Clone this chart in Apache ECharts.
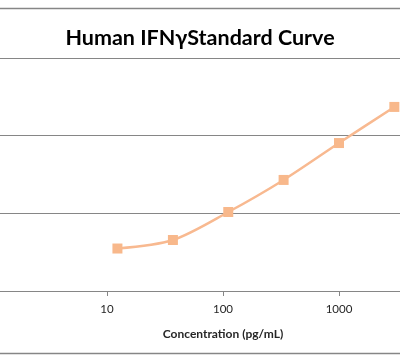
<!DOCTYPE html>
<html><head><meta charset="utf-8">
<script src="https://cdn.jsdelivr.net/npm/echarts@6/dist/echarts.min.js"></script>
<style>html,body{margin:0;padding:0;background:#fff}#c{width:400px;height:362px}</style>
</head><body><div id="c"></div>
<script>
const titleText = 'Human IFNγStandard Curve';
const xAxisName = 'Concentration (pg/mL)';
const concentrations = [12.3, 37, 111, 333, 1000, 3000];
const odValues = [0.547, 0.657, 1.017, 1.43, 1.905, 2.37];
const yTicks = [0, 1, 2, 3];

const chart = echarts.init(document.getElementById('c'), null, {renderer: 'canvas'});
chart.setOption({
  animation: false,
  backgroundColor: '#fff',
  title: {
    text: titleText, left: 'center', top: 22,
    textStyle: {fontFamily: 'Lato', fontWeight: 'bold', fontSize: 21.5, color: '#000'}
  },
  graphic: [
    {type: 'line', shape: {x1: 0, y1: 8.5, x2: 400, y2: 8.5}, style: {stroke: '#868686', lineWidth: 1.5}},
    {type: 'line', shape: {x1: 0, y1: 353.5, x2: 400, y2: 353.5}, style: {stroke: '#868686', lineWidth: 1.5}}
  ],
  grid: {left: -9, right: -55, top: 58, bottom: 71, containLabel: false, outerBoundsMode: 'none'},
  xAxis: {
    type: 'log', logBase: 10, min: 1, max: 10000,
    name: xAxisName, nameLocation: 'middle', nameGap: 37,
    nameTextStyle: {fontFamily: 'Lato', fontWeight: 'bold', fontSize: 12, color: '#262626'},
    axisLine: {lineStyle: {color: '#868686', width: 1}},
    axisTick: {show: true, length: 5, lineStyle: {color: '#868686'}},
    minorTick: {show: false},
    splitLine: {show: false},
    axisLabel: {fontFamily: 'Lato', fontSize: 11.5, color: '#262626', margin: 12,
      formatter: v => String(Math.round(v))}
  },
  yAxis: {
    type: 'value', min: yTicks[0], max: yTicks[yTicks.length - 1], interval: 1,
    axisLine: {show: false}, axisTick: {show: false},
    axisLabel: {show: false},
    splitLine: {lineStyle: {color: '#868686', width: 1}}
  },
  series: [{
    type: 'line',
    data: concentrations.map((c, i) => [c, odValues[i]]),
    smooth: 0.3,
    symbol: 'rect', symbolSize: 10,
    lineStyle: {color: '#F8B990', width: 2.5},
    itemStyle: {color: '#F8B88B'}
  }]
});
</script></body></html>
